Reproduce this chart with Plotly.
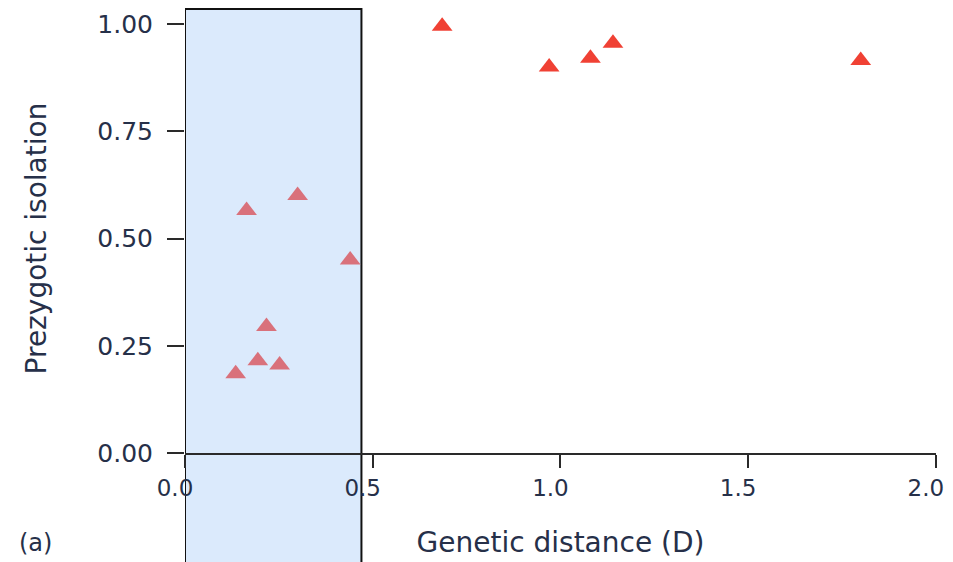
import plotly.graph_objects as go

# Data
close_distance = [0.135, 0.164, 0.194, 0.217, 0.252, 0.30, 0.44]
close_isolation = [0.185, 0.565, 0.215, 0.295, 0.205, 0.60, 0.45]

far_distance = [0.685, 0.97, 1.08, 1.14, 1.80]
far_isolation = [0.995, 0.90, 0.92, 0.955, 0.915]

x_ticks = [0.0, 0.5, 1.0, 1.5, 2.0]
x_tick_labels = ["0.0", "0.5", "1.0", "1.5", "2.0"]
y_ticks = [0.0, 0.25, 0.5, 0.75, 1.0]
y_tick_labels = ["0.00", "0.25", "0.50", "0.75", "1.00"]

highlight_range = [0.0, 0.47]

FONT = "DejaVu Sans"
TEXT = "#263049"
AXIS = "#2a2a2a"

fig = go.Figure()

fig.add_trace(go.Scatter(
    x=close_distance, y=close_isolation, mode="markers",
    marker=dict(symbol="triangle-up", size=18, color="#d9717b", line=dict(width=0)),
    cliponaxis=False, showlegend=False,
))
fig.add_trace(go.Scatter(
    x=far_distance, y=far_isolation, mode="markers",
    marker=dict(symbol="triangle-up", size=18, color="#f04134", line=dict(width=0)),
    cliponaxis=False, showlegend=False,
))

fig.add_shape(
    type="rect", xref="x", yref="paper",
    x0=highlight_range[0], x1=highlight_range[1], y0=-0.4, y1=1.035,
    fillcolor="#dbeafc", line=dict(color="#111111", width=2), layer="below",
)

fig.add_annotation(
    text="(a)", xref="paper", yref="paper", x=-0.1997, y=-0.21,
    xanchor="center", yanchor="middle", showarrow=False,
    font=dict(family=FONT, size=24, color=TEXT),
)

fig.update_layout(
    width=953, height=562,
    margin=dict(l=177, r=25, t=16, b=117),
    paper_bgcolor="white", plot_bgcolor="rgba(0,0,0,0)",
    font=dict(family=FONT, color=TEXT),
    xaxis=dict(
        range=[0, 2.0005], tickvals=x_ticks, ticktext=x_tick_labels,
        showgrid=False, zeroline=False,
        showline=True, linecolor=AXIS, linewidth=2,
        ticks="outside", ticklen=13, tickwidth=2, tickcolor=AXIS,
        ticklabeloverflow="allow", ticklabelshift=-10,
        tickfont=dict(family=FONT, size=23, color=TEXT),
        title=dict(text="Genetic distance (D)", standoff=33,
                   font=dict(family=FONT, size=28, color=TEXT)),
        automargin=False,
    ),
    yaxis=dict(
        range=[0, 1.0], tickvals=y_ticks, ticktext=y_tick_labels,
        showgrid=False, zeroline=False, showline=False,
        ticks="outside", ticklen=17, tickwidth=2, tickcolor=AXIS,
        ticklabelstandoff=9, ticklabeloverflow="allow",
        tickfont=dict(family=FONT, size=25, color=TEXT),
        title=dict(text="Prezygotic isolation", standoff=42,
                   font=dict(family=FONT, size=28, color=TEXT)),
        automargin=False,
    ),
)

fig.write_html("out.html")
